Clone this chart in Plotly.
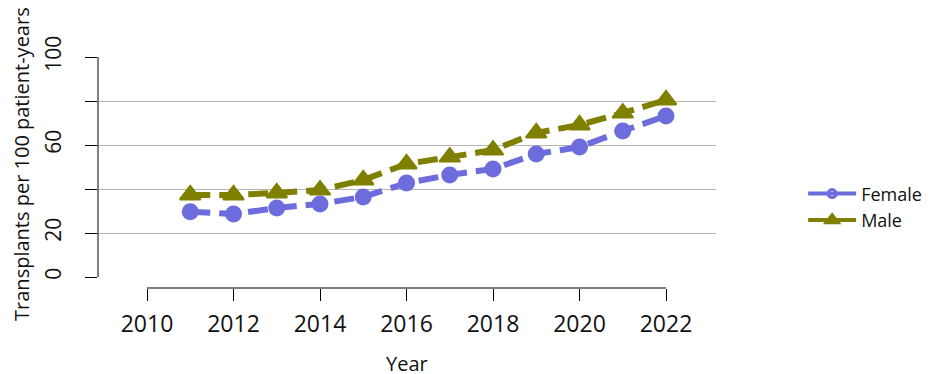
import plotly.graph_objects as go

years = [2011, 2012, 2013, 2014, 2015, 2016, 2017, 2018, 2019, 2020, 2021, 2022]
female = [29.7, 28.6, 31.4, 33.2, 36.4, 42.7, 46.4, 49.1, 55.9, 59.1, 66.4, 73.2]
male = [37.3, 37.3, 38.2, 39.5, 44.1, 51.4, 54.5, 57.7, 65.5, 69.1, 74.5, 80.5]

x_ticks = [2010, 2012, 2014, 2016, 2018, 2020, 2022]
y_ticks = [0, 20, 40, 60, 80, 100]
y_ticktext = ["0", "20", "", "60", "", "100"]

FEMALE_COL = "#6C6CDC"
MALE_COL = "#808000"
FONT = "Open Sans"
TXT = "#111111"

fig = go.Figure()
fig.add_trace(go.Scatter(
    x=years, y=female, name="Female", mode="lines+markers", showlegend=False,
    line=dict(color=FEMALE_COL, width=6, dash="20px,9px"),
    marker=dict(symbol="circle", size=17, color=FEMALE_COL),
    cliponaxis=False,
))
fig.add_trace(go.Scatter(
    x=years, y=male, name="Male", mode="lines+markers", showlegend=False,
    line=dict(color=MALE_COL, width=6, dash="20px,9px"),
    marker=dict(symbol="triangle-up", size=18, color=MALE_COL,
                line=dict(color=MALE_COL, width=2)),
    cliponaxis=False,
))
# legend-only entries (solid line, open symbols as in the reference key)
fig.add_trace(go.Scatter(
    x=[None], y=[None], name="Female", mode="lines+markers",
    line=dict(color=FEMALE_COL, width=4),
    marker=dict(symbol="circle-open", size=8, color=FEMALE_COL,
                line=dict(color=FEMALE_COL, width=3)),
))
fig.add_trace(go.Scatter(
    x=[None], y=[None], name="Male", mode="lines+markers",
    line=dict(color=MALE_COL, width=4),
    marker=dict(symbol="triangle-up-open", size=10, color=MALE_COL,
                line=dict(color=MALE_COL, width=3.5)),
))

# R-style axis lines spanning only the tick range
fig.add_shape(type="line", xref="x", yref="paper", x0=x_ticks[0], x1=x_ticks[-1],
              y0=0, y1=0, line=dict(color="black", width=1))
fig.add_shape(type="line", xref="paper", yref="y", x0=0, x1=0,
              y0=y_ticks[0], y1=y_ticks[-1], line=dict(color="black", width=1))

# axis titles as annotations for exact placement
fig.add_annotation(text="Year", xref="paper", yref="paper", x=0.5, y=-0.326,
                   xanchor="center", yanchor="middle", showarrow=False,
                   borderpad=0,
                   font=dict(size=20, family=FONT, color=TXT))
fig.add_annotation(text="Transplants per 100 patient-years", xref="paper", yref="paper",
                   x=-0.123, y=0.537, textangle=-90,
                   xanchor="center", yanchor="middle", showarrow=False,
                   font=dict(size=20, family=FONT, color=TXT))

# page body has an 8px margin, so the figure is 8px smaller and offsets reduced
fig.update_layout(
    width=922, height=366,
    margin=dict(l=90, r=214, t=49, b=86, autoexpand=False),
    paper_bgcolor="white", plot_bgcolor="white",
    font=dict(family=FONT, size=18, color=TXT),
    showlegend=True,
    legend=dict(x=1.141, y=0.351, xanchor="left", yanchor="middle",
                font=dict(size=18, color=TXT), tracegroupgap=0, itemwidth=48,
                borderwidth=0, bgcolor="rgba(0,0,0,0)"),
    xaxis=dict(
        range=[2008.867, 2023.156], tickvals=x_ticks, automargin=False,
        ticks="outside", ticklen=12, tickcolor="black", tickwidth=1,
        ticklabelstandoff=3,
        showgrid=False, zeroline=False, showline=False,
        tickfont=dict(size=23, family=FONT, color=TXT),
    ),
    yaxis=dict(
        range=[-5, 100], tickvals=y_ticks, ticktext=y_ticktext, automargin=False,
        tickangle=-90, ticklabelstandoff=16,
        ticks="outside", ticklen=12, tickcolor="black", tickwidth=1,
        showgrid=True, gridcolor="#b4b4b4", gridwidth=1,
        zeroline=True, zerolinecolor="white", showline=False,
        tickfont=dict(size=21, family=FONT, color=TXT),
    ),
)

fig.write_html("out.html")
